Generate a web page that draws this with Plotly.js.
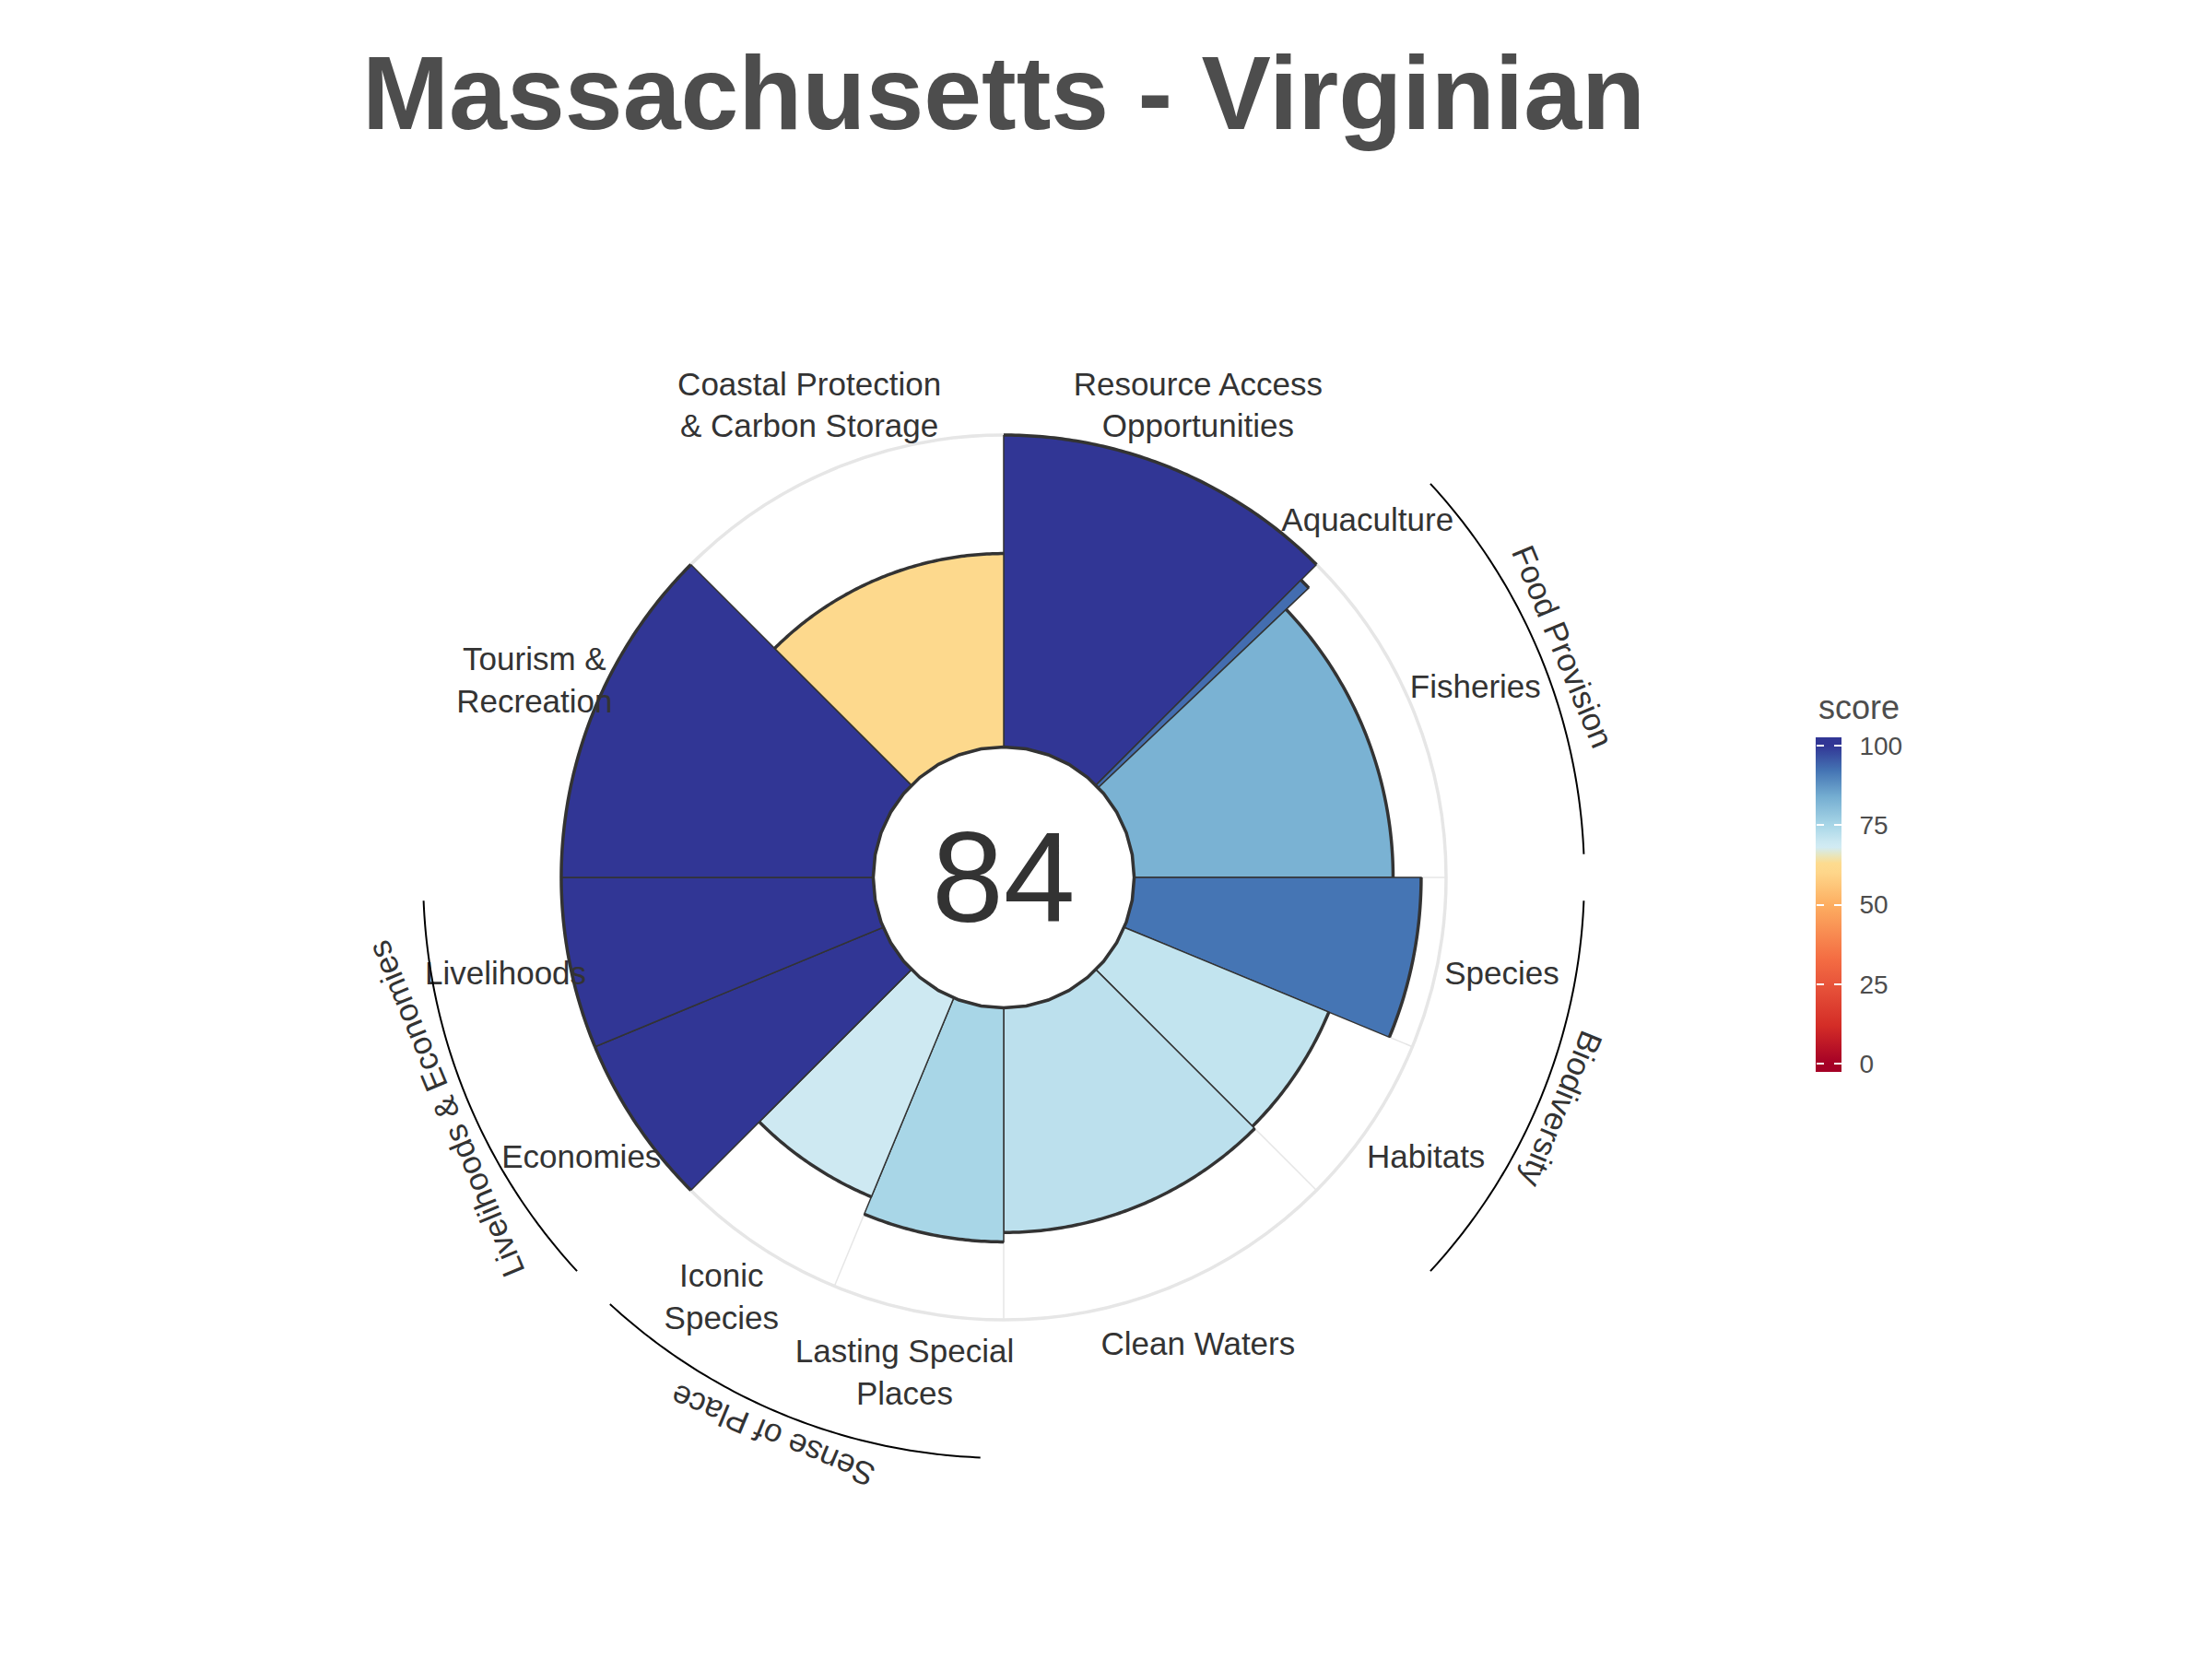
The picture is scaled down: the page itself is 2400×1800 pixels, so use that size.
<!DOCTYPE html>
<html><head><meta charset="utf-8">
<script src="https://cdn.plot.ly/plotly-3.0.1.min.js"></script>
<style>html,body{margin:0;padding:0;background:#fff}#chart{width:2400px;height:1800px}</style>
</head><body><div id="chart"></div>
<script>
// ---- data ----
const regionName = 'Massachusetts - Virginian';
const overallScore = 84;
const subgoals = ['Resource Access<br>Opportunities','Aquaculture','Fisheries','Species','Habitats','Clean Waters','Lasting Special<br>Places','Iconic<br>Species','Economies','Livelihoods','Tourism &<br>Recreation','Coastal Protection<br>& Carbon Storage'];
const scores = [100, 93, 83, 92, 71, 72, 75, 69, 100, 100, 100, 62];
const petalWidths = [45, 1.5, 43.5, 22.5, 22.5, 45, 22.5, 22.5, 22.5, 22.5, 45, 45];
const goalOf = ['', 'Food Provision', 'Food Provision', 'Biodiversity', 'Biodiversity', '', 'Sense of Place', 'Sense of Place', 'Livelihoods & Economies', 'Livelihoods & Economies', '', ''];
const colorStops = [[0,'#a50026'],[12,'#d42d27'],[25,'#e8553b'],[33,'#f46d43'],[50,'#fdae61'],[60,'#fed68a'],[63,'#fddb8f'],[65.5,'#e8e6bd'],[68,'#d2ebf3'],[70,'#c9e7f1'],[75,'#a8d6e7'],[84,'#74add1'],[92,'#4575b4'],[100,'#313695']];
const colorTicks = [0, 25, 50, 75, 100];
const colorbarTitle = 'score';

// ---- layout constants ----
const W = 2400, H = 1800;
const centerPx = [1089, 952];          // centre of the flower on the page
const R1 = 480;                        // outer radius of the score circle
const hole = 0.295;
const outerRange = 160;                // radial range of the overlay subplot
const cmin = -2.6, cmax = 102.6;
const labelR = 121, goalArcR = 144.3, goalLabelR = 152, arcInset = 2.3;
const dark = '#333333';
const font = 'Liberation Sans, Arial, sans-serif';

// ---- derived geometry ----
const cxP = centerPx[0] / W, cyP = 1 - centerPx[1] / H;
const domX = [cxP - R1 / W, cxP + R1 / W], domY = [cyP - R1 / H, cyP + R1 / H];
const innerPx = R1 * hole;
const r0 = -100 * innerPx / (R1 - innerPx);
const R2 = R1 * (outerRange - r0) / (100 - r0);
const domX2 = [cxP - R2 / W, cxP + R2 / W], domY2 = [cyP - R2 / H, cyP + R2 / H];

const starts = [], centers = [];
let acc = 0;
petalWidths.forEach(w => { starts.push(acc); centers.push(acc + w / 2); acc += w; });
const colorscale = [[0, colorStops[0][1]]].concat(colorStops.map(s => [(s[0] - cmin) / (cmax - cmin), s[1]])).concat([[1, colorStops[colorStops.length - 1][1]]]);
const gridVals = starts.filter(s => Math.abs(s / 22.5 - Math.round(s / 22.5)) < 1e-6);

// outer arcs of petals
const arcR = [], arcT = [];
scores.forEach((s, i) => {
  const a0 = starts[i], a1 = starts[i] + petalWidths[i];
  const n = Math.max(2, Math.ceil((a1 - a0) / 0.5));
  for (let k = 0; k <= n; k++) { arcR.push(s); arcT.push(a0 + (a1 - a0) * k / n); }
  arcR.push(null); arcT.push(null);
});
// hole outline
const holeR = [], holeT = [];
for (let a = 0; a <= 360; a += 10) { holeR.push(0); holeT.push(a); }

// goals
const goals = [];
goalOf.forEach((g, i) => {
  if (!g) return;
  let e = goals.find(x => x.name === g);
  if (!e) { e = { name: g, a0: starts[i], a1: starts[i] + petalWidths[i] }; goals.push(e); }
  else { e.a1 = starts[i] + petalWidths[i]; }
});
const goalR = [], goalT = [];
goals.forEach(g => {
  const a0 = g.a0 + arcInset, a1 = g.a1 - arcInset;
  const n = Math.ceil((a1 - a0) / 0.5);
  for (let k = 0; k <= n; k++) { goalR.push(goalArcR); goalT.push(a0 + (a1 - a0) * k / n); }
  goalR.push(null); goalT.push(null);
});

function rToPx(r) { return innerPx + (R1 - innerPx) * r / 100; }

const barBottom = 1 - 1163 / H, barLen = 363 / H, barLeft = 1971 / W;

const annotations = [{
  text: String(overallScore), x: cxP, y: cyP, xref: 'paper', yref: 'paper',
  xanchor: 'center', yanchor: 'middle', showarrow: false,
  font: { family: font, size: 140, color: dark }
}, {
  text: colorbarTitle, x: barLeft, y: barBottom + barLen + 10 / H, xref: 'paper', yref: 'paper',
  xanchor: 'left', yanchor: 'bottom', showarrow: false,
  font: { family: font, size: 36, color: '#4d4d4d' }
}];
goals.forEach(g => {
  const mid = (g.a0 + g.a1) / 2;
  const rad = mid * Math.PI / 180;
  const rp = rToPx(goalLabelR);
  let ang = mid; if (ang > 180) ang -= 360;
  annotations.push({
    text: g.name, xref: 'paper', yref: 'paper',
    x: cxP + rp * Math.sin(rad) / W, y: cyP + rp * Math.cos(rad) / H,
    xanchor: 'center', yanchor: 'middle', showarrow: false, textangle: ang,
    font: { family: font, size: 35, color: dark }
  });
});

const traces = [
  {
    type: 'barpolar', subplot: 'polar', r: scores, theta: centers, width: petalWidths,
    marker: {
      color: scores, colorscale: colorscale, cmin: cmin, cmax: cmax,
      line: { color: dark, width: 1.5 },
      showscale: true,
      colorbar: {
        x: barLeft, xanchor: 'left', xpad: 0, y: barBottom, yanchor: 'bottom', ypad: 0,
        len: barLen, lenmode: 'fraction', thickness: 27, thicknessmode: 'pixels',
        ticks: 'inside', ticklen: 8, tickwidth: 2, tickcolor: '#ffffff',
        tickvals: colorTicks, ticktext: colorTicks.map(v => '\u00a0\u2009' + v),
        tickfont: { family: font, size: 28, color: '#4d4d4d' },
        outlinewidth: 0, title: { text: '' }
      }
    },
    hoverinfo: 'skip'
  },
  { type: 'scatterpolar', subplot: 'polar2', mode: 'lines', r: arcR, theta: arcT, line: { color: dark, width: 3.5 }, hoverinfo: 'skip', connectgaps: false },
  { type: 'scatterpolar', subplot: 'polar2', mode: 'lines', r: holeR, theta: holeT, line: { color: dark, width: 3.5 }, hoverinfo: 'skip' },
  { type: 'scatterpolar', subplot: 'polar2', mode: 'text', r: subgoals.map(() => labelR), theta: centers, text: subgoals,
    textposition: 'middle center',
    textfont: { family: font, size: 35, color: dark }, hoverinfo: 'skip' },
  { type: 'scatterpolar', subplot: 'polar2', mode: 'lines', r: goalR, theta: goalT, line: { color: '#000000', width: 2 }, hoverinfo: 'skip', connectgaps: false },
  { type: 'scatterpolar', subplot: 'polar2', mode: 'markers', r: scores, theta: centers, hoverinfo: 'skip',
    marker: { color: scores, colorscale: colorscale, cmin: cmin, cmax: cmax, opacity: 0, size: 1, showscale: true,
      colorbar: {
        x: barLeft - 1 / W, xanchor: 'left', xpad: 0, y: barBottom, yanchor: 'bottom', ypad: 0,
        len: barLen, lenmode: 'fraction', thickness: 1, thicknessmode: 'pixels',
        ticks: 'outside', ticklen: 8, tickwidth: 2, tickcolor: '#ffffff',
        tickvals: colorTicks, showticklabels: false, outlinewidth: 0, title: { text: '' }
      } } }
];

const angularCommon = { rotation: 90, direction: 'clockwise', thetaunit: 'degrees', type: 'linear' };

const layout = {
  width: W, height: H, margin: { l: 0, r: 0, t: 0, b: 0 },
  paper_bgcolor: '#ffffff', showlegend: false,
  title: { text: regionName, x: cxP, xanchor: 'center', xref: 'paper', y: 1 - 100 / H, yanchor: 'middle', yref: 'container',
    font: { family: font, size: 113, color: '#4d4d4d', weight: 'bold' } },
  polar: {
    domain: { x: domX, y: domY }, hole: hole, bgcolor: '#ffffff',
    radialaxis: { range: [0, 100], visible: false, showgrid: false },
    angularaxis: Object.assign({}, angularCommon, {
      tickmode: 'array', tickvals: gridVals, showticklabels: false, ticks: '',
      showgrid: true, gridcolor: '#e6e6e6', gridwidth: 1.5,
      showline: true, linecolor: '#e6e6e6', linewidth: 3.5, layer: 'below traces'
    })
  },
  polar2: {
    domain: { x: domX2, y: domY2 }, hole: 0, bgcolor: 'rgba(0,0,0,0)',
    radialaxis: { range: [r0, outerRange], visible: false, showgrid: false },
    angularaxis: Object.assign({}, angularCommon, { visible: false, showgrid: false, showline: false })
  },
  annotations: annotations
};

Plotly.newPlot('chart', traces, layout, { displayModeBar: false, staticPlot: true });
</script>
</body></html>
